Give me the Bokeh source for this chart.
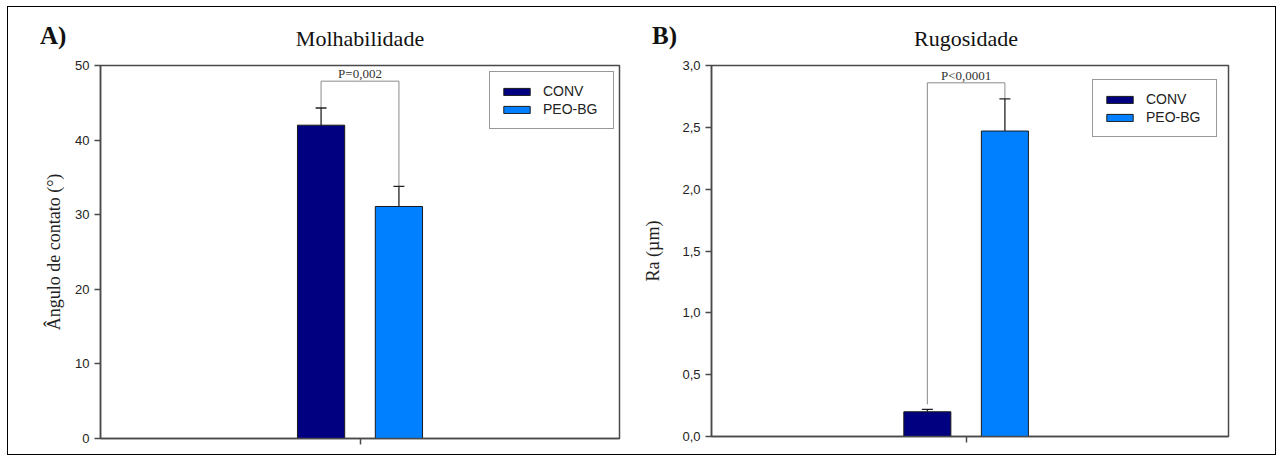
from bokeh.plotting import figure
from bokeh.layouts import row, column
from bokeh.models import (ColumnDataSource, Whisker, TeeHead, Label, FixedTicker,
                          Range1d, CustomJSTickFormatter, Div)
from bokeh.embed import file_html
from bokeh.resources import INLINE

# ---------------- data ----------------
groups = ["CONV", "PEO-BG"]
colors = ["#000080", "#0080FF"]

wet_mean = [42.0, 31.1]
wet_err = [2.3, 2.7]
wet_ticks = [0, 10, 20, 30, 40, 50]
wet_tick_labels = ["0", "10", "20", "30", "40", "50"]
wet_p = "P=0,002"
wet_bracket_top = 47.9
wet_bracket_left_end = 44.3
wet_bracket_right_end = 33.8

rough_mean = [0.20, 2.47]
rough_err = [0.02, 0.26]
rough_ticks = [0.0, 0.5, 1.0, 1.5, 2.0, 2.5, 3.0]
rough_tick_labels = ["0,0", "0,5", "1,0", "1,5", "2,0", "2,5", "3,0"]
rough_p = "P<0,0001"
rough_bracket_top = 2.86
rough_bracket_left_end = 0.26
rough_bracket_right_end = 2.73

SANS = "Liberation Sans"
SERIF = "Liberation Serif"
AX = "#4a4a4a"
HEAD_H = 50


def panel(ylabel, means, errs, ticks, tick_labels, ymax, xr,
          ptext, btop, bleft, bright, fw, fh, bl, br, bt, bb, leg_loc):
    p = figure(frame_width=fw, frame_height=fh,
               min_border_left=bl, min_border_right=br,
               min_border_top=bt, min_border_bottom=bb,
               x_range=Range1d(*xr), y_range=Range1d(0, ymax),
               output_backend="svg", toolbar_location=None, tools="",
               margin=0)
    p.background_fill_color = "white"
    p.border_fill_color = "white"
    p.grid.grid_line_color = None
    p.outline_line_color = AX
    p.outline_line_width = 1.5
    p.outline_line_alpha = 1.0

    xs = [-0.15, 0.15]
    src = ColumnDataSource(dict(
        x=xs, top=means,
        upper=[m + e for m, e in zip(means, errs)],
        color=colors, group=groups))
    p.vbar(x="x", top="top", width=0.182, fill_color="color",
           line_color="#1a1a1a", line_width=1, source=src,
           legend_field="group")
    p.add_layout(Whisker(source=src, base="x", lower="top", upper="upper",
                         line_color="#222222", line_width=1.3,
                         upper_head=TeeHead(size=11, line_color="#222222",
                                            line_width=1.3),
                         lower_head=None, level="overlay"))

    # significance bracket
    p.line(x=[xs[0], xs[0], xs[1], xs[1]], y=[bleft, btop, btop, bright],
           line_color="#8a8a8a", line_width=1)
    p.add_layout(Label(x=(xs[0] + xs[1]) / 2, y=btop, text=ptext,
                       text_align="center", text_baseline="bottom",
                       text_font=SERIF, text_font_size="13px",
                       text_color="#333333"))

    # axes
    p.xaxis.ticker = FixedTicker(ticks=[0])
    p.xaxis.major_label_text_font_size = "0px"
    p.axis.minor_tick_line_color = None
    p.axis.axis_line_color = AX
    p.axis.axis_line_width = 1.5
    p.axis.major_tick_line_color = AX
    p.axis.major_tick_line_width = 1.5
    p.axis.major_tick_in = 0
    p.axis.major_tick_out = 6
    p.yaxis.ticker = FixedTicker(ticks=ticks)
    p.yaxis.formatter = CustomJSTickFormatter(
        args=dict(tv=ticks, tl=tick_labels),
        code="""
        for (let i = 0; i < tv.length; i++) {
            if (Math.abs(tv[i] - tick) < 1e-9) return tl[i];
        }
        return "";""")
    p.yaxis.major_label_text_font = SANS
    p.yaxis.major_label_text_font_size = "13px"
    p.yaxis.major_label_text_color = "#222222"
    p.yaxis.major_label_standoff = 5
    p.yaxis.axis_label = ylabel
    p.yaxis.axis_label_text_font = SERIF
    p.yaxis.axis_label_text_font_style = "normal"
    p.yaxis.axis_label_text_font_size = "18px"
    p.yaxis.axis_label_text_color = "#222222"

    lg = p.legend[0]
    lg.location = leg_loc
    lg.border_line_color = "#333333"
    lg.border_line_width = 1.5
    lg.padding = 10
    lg.spacing = 0
    lg.margin = 0
    lg.glyph_width = 33
    lg.glyph_height = 9
    lg.label_height = 18
    lg.label_width = 60
    lg.label_standoff = 10
    lg.label_text_font = SANS
    lg.label_text_font_size = "14px"
    lg.label_text_color = "#222222"
    lg.label_text_baseline = "middle"
    return p


def header(letter, title, width, letter_left, title_center):
    html = (
        f'<div style="position:relative;width:{width}px;height:{HEAD_H}px;'
        f'margin:0;padding:0;font-family:\'{SERIF}\';color:#111;">'
        f'<span style="position:absolute;left:{letter_left}px;top:16px;'
        f'font-size:25px;line-height:25px;font-weight:bold;">{letter}</span>'
        f'<span style="position:absolute;left:{title_center - 150}px;'
        f'width:300px;text-align:center;top:21px;font-size:22px;'
        f'line-height:22px;">{title}</span></div>')
    return Div(text=html, width=width, height=HEAD_H, margin=0,
               styles={"margin": "0px", "padding": "0px"})


p1 = panel("Ângulo de contato (°)", wet_mean, wet_err,
           wet_ticks, wet_tick_labels, 50, (-1, 1), wet_p, wet_bracket_top,
           wet_bracket_left_end, wet_bracket_right_end,
           fw=519, fh=373, bl=92, br=21, bt=4, bb=20, leg_loc=(389, 309))
p1.yaxis.axis_label_standoff = 8

p2 = panel("Ra (µm)", rough_mean, rough_err,
           rough_ticks, rough_tick_labels, 3.0, (-0.985, 1.015), rough_p,
           rough_bracket_top, rough_bracket_left_end, rough_bracket_right_end,
           fw=517, fh=371, bl=67, br=47, bt=8, bb=18, leg_loc=(381, 299))
p2.yaxis.axis_label_standoff = 16

hA = header("A)", "Molhabilidade", 632, 32, 352)
hB = header("B)", "Rugosidade", 631, 12, 326)

layout = column(row(hA, hB, margin=0, spacing=0),
                row(p1, p2, margin=0, spacing=0),
                margin=0, spacing=0,
                styles={"border": "1px solid #000000",
                        "margin": "6px 0px 0px 7px"})

open("out.html", "w").write(file_html(layout, INLINE))
